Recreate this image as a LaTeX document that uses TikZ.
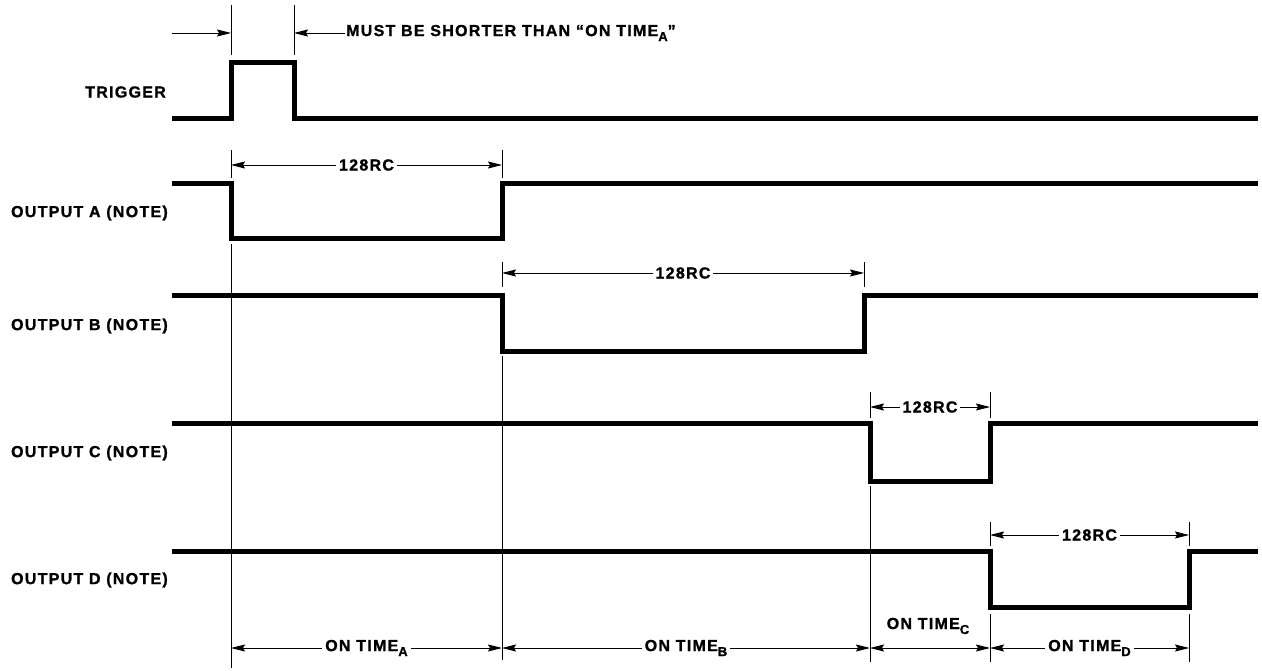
\documentclass[tikz,border=0pt]{standalone}
\usepackage{fontspec}
\setmainfont{Liberation Sans}[LetterSpace=8, BoldFeatures={FakeBold=1.2}]
\usetikzlibrary{arrows.meta}
\newcommand\lowsub[1]{\raisebox{-5pt}{\fontsize{13}{13}\selectfont #1}}
\begin{document}
\begin{tikzpicture}[x=1pt,y=-1pt,
  wave/.style={line width=5pt, line join=miter, line cap=butt},
  thinline/.style={line width=0.9pt},
  dimline/.style={line width=0.9pt, {Stealth[length=14pt,width=7pt,inset=2pt]}-{Stealth[length=14pt,width=7pt,inset=2pt]}},
  onearrow/.style={line width=0.9pt, -{Stealth[length=14pt,width=7pt,inset=2pt]}},
  lbl/.style={font=\fontsize{16}{16}\selectfont\bfseries, inner sep=0pt},
  dimlbl/.style={lbl, fill=white, inner xsep=3pt, inner ysep=2pt}]
\useasboundingbox (0,0) rectangle (1262,671);

% time marks
\def\tA{231}\def\tT{294}\def\tB{502}\def\tBr{864}\def\tC{870}\def\tD{990}\def\tE{1189}

% labels
\node[lbl, anchor=east] (ltrig) at (166,92) {TRIGGER};
\node[lbl, anchor=east] (la) at (168,213) {OUTPUT A (NOTE)};
\node[lbl, anchor=east] (lb) at (168,326) {OUTPUT B (NOTE)};
\node[lbl, anchor=east] (lc) at (168,453) {OUTPUT C (NOTE)};
\node[lbl, anchor=east] (ld) at (168,580) {OUTPUT D (NOTE)};

% waveforms
\draw[wave] (172,119) -- (\tA,119) -- (\tA,63) -- (\tT,63) -- (\tT,119) -- (1258,119);
\draw[wave] (172,184) -- (\tA,184) -- (\tA,239) -- (\tB,239) -- (\tB,184) -- (1258,184);
\draw[wave] (172,296) -- (\tB,296) -- (\tB,351) -- (\tBr,351) -- (\tBr,296) -- (1258,296);
\draw[wave] (172,423) -- (\tC,423) -- (\tC,481) -- (\tD,481) -- (\tD,423) -- (1258,423);
\draw[wave] (172,551) -- (\tD,551) -- (\tD,607) -- (\tE,607) -- (\tE,551) -- (1258,551);

% thin extension lines
\draw[thinline] (\tA,5) -- (\tA,55);
\draw[thinline] (\tT,5) -- (\tT,55);
\draw[thinline] (\tA,150) -- (\tA,178);
\draw[thinline] (\tB,150) -- (\tB,178);
\draw[thinline] (\tA,244) -- (\tA,668);
\draw[thinline] (\tB,262) -- (\tB,287);
\draw[thinline] (\tBr,262) -- (\tBr,287);
\draw[thinline] (\tB,356) -- (\tB,660);
\draw[thinline] (\tC,392) -- (\tC,418);
\draw[thinline] (\tD,392) -- (\tD,418);
\draw[thinline] (\tC,486) -- (\tC,662);
\draw[thinline] (\tD,522) -- (\tD,546);
\draw[thinline] (\tE,522) -- (\tE,546);
\draw[thinline] (\tD,614) -- (\tD,662);
\draw[thinline] (\tE,614) -- (\tE,662);

% top trigger width annotation
\coordinate (t0) at (172,33);
\coordinate (t1) at (\tA,33);
\coordinate (t2) at (\tT,33);
\coordinate (t3) at (345,33);
\draw[onearrow] (t0) -- (t1);
\draw[onearrow] (t3) -- (t2);
\node[lbl, anchor=west, inner xsep=1pt] (must) at (t3) {MUST BE SHORTER THAN ``ON TIME\lowsub{A}''};

% 128RC dimensions
\coordinate (a0) at (\tA,165); \coordinate (a1) at (\tB,165);
\draw[dimline] (a0) -- (a1) node[dimlbl, midway] (da) {128RC};
\coordinate (b0) at (\tB,273); \coordinate (b1) at (\tBr,273);
\draw[dimline] (b0) -- (b1) node[dimlbl, midway] (db) {128RC};
\coordinate (c0) at (\tC,407); \coordinate (c1) at (\tD,407);
\draw[dimline] (c0) -- (c1) node[dimlbl, midway] (dc) {128RC};
\coordinate (d0) at (\tD,535); \coordinate (d1) at (\tE,535);
\draw[dimline] (d0) -- (d1) node[dimlbl, midway] (dd) {128RC};

% ON TIME dimensions
\coordinate (o0) at (\tA,648); \coordinate (o1) at (\tB,648);
\coordinate (o2) at (\tC,648); \coordinate (o3) at (\tD,648); \coordinate (o4) at (\tE,648);
\draw[dimline] (o0) -- (o1) node[dimlbl, midway] (ona) {ON TIME\lowsub{A}};
\draw[dimline] (o1) -- (o2) node[dimlbl, midway] (onb) {ON TIME\lowsub{B}};
\draw[dimline] (o2) -- (o3);
\node[lbl] (onc) at (928,626) {ON TIME\lowsub{C}};
\draw[dimline] (o3) -- (o4) node[dimlbl, midway] (ond) {ON TIME\lowsub{D}};
\end{tikzpicture}
\end{document}
